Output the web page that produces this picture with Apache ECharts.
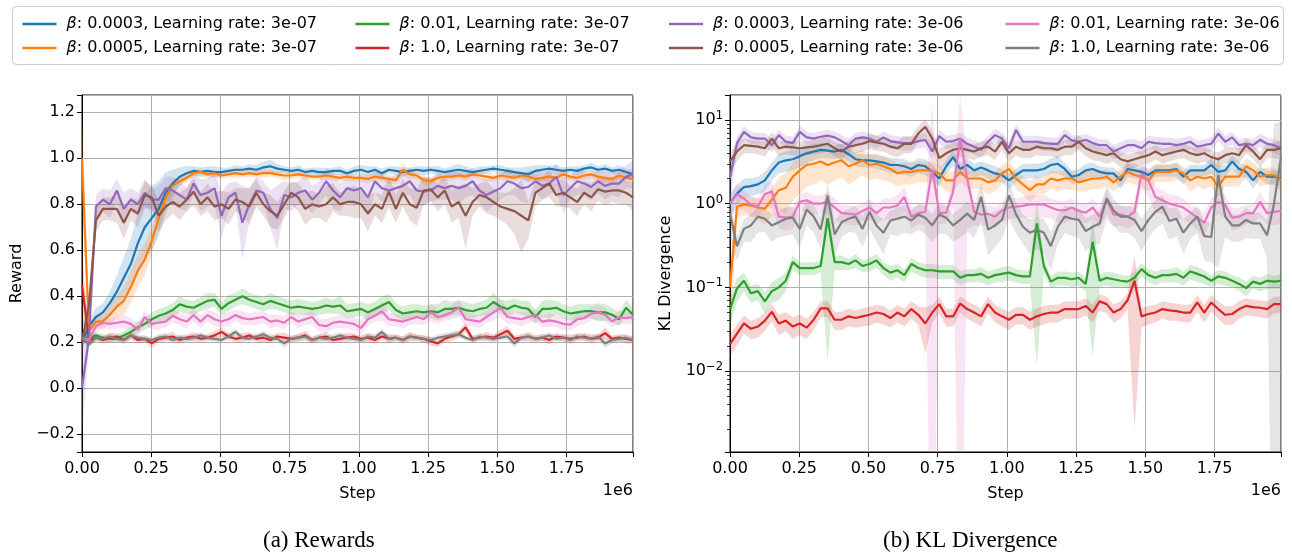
<!DOCTYPE html>
<html><head><meta charset="utf-8">
<script src="https://cdn.jsdelivr.net/npm/echarts@6/dist/echarts.min.js"></script>
<style>html,body{margin:0;padding:0;background:#fff}#c{width:1292px;height:559px}</style>
</head><body><div id="c"></div><script>
// ---------- data ----------
const N = 80, STEP_MAX = 1990000;
const steps = Array.from({length: N}, (_, i) => Math.round(i * STEP_MAX / (N - 1)));

const seriesNames = [
  'β: 0.0003, Learning rate: 3e-07', 'β: 0.0005, Learning rate: 3e-07',
  'β: 0.01, Learning rate: 3e-07', 'β: 1.0, Learning rate: 3e-07',
  'β: 0.0003, Learning rate: 3e-06', 'β: 0.0005, Learning rate: 3e-06',
  'β: 0.01, Learning rate: 3e-06', 'β: 1.0, Learning rate: 3e-06'
];
const seriesColors = ['#1f77b4','#ff7f0e','#2ca02c','#d62728','#9467bd','#8c564b','#e377c2','#7f7f7f'];

const xTickLabels = ['0.00','0.25','0.50','0.75','1.00','1.25','1.50','1.75'];
const rewardTickLabels = ['−0.2','0.0','0.2','0.4','0.6','0.8','1.0','1.2'];
const klTickExponents = [-2, -1, 0, 1];

// Rewards (mean)
const rewardBlue = [0.20,0.27,0.31,0.33,0.37,0.42,0.48,0.54,0.63,0.70,0.74,0.78,0.85,0.89,0.92,0.935,0.945,0.94,0.945,0.94,
0.94,0.945,0.95,0.95,0.955,0.95,0.96,0.965,0.955,0.95,0.945,0.95,0.94,0.945,0.94,0.94,0.945,0.945,0.935,0.945,
0.95,0.94,0.95,0.935,0.95,0.945,0.94,0.945,0.95,0.945,0.95,0.945,0.94,0.945,0.95,0.945,0.94,0.945,0.95,0.955,
0.95,0.945,0.94,0.935,0.93,0.945,0.95,0.955,0.95,0.945,0.95,0.945,0.955,0.96,0.95,0.955,0.945,0.95,0.94,0.93];
const rewardOrange = [1.00,0.25,0.29,0.29,0.32,0.355,0.38,0.44,0.51,0.56,0.64,0.74,0.83,0.88,0.90,0.915,0.935,0.94,0.93,0.935,
0.925,0.93,0.935,0.93,0.935,0.93,0.935,0.935,0.93,0.925,0.925,0.93,0.925,0.92,0.92,0.925,0.92,0.915,0.92,0.915,
0.915,0.91,0.92,0.915,0.91,0.905,0.95,0.93,0.925,0.905,0.90,0.915,0.92,0.92,0.925,0.92,0.93,0.925,0.92,0.915,
0.925,0.92,0.915,0.925,0.92,0.91,0.915,0.92,0.915,0.93,0.92,0.915,0.925,0.93,0.92,0.915,0.91,0.925,0.915,0.91];
const rewardGreen = [0.22,0.22,0.23,0.22,0.215,0.215,0.23,0.245,0.265,0.28,0.30,0.315,0.325,0.34,0.365,0.355,0.35,0.365,0.38,0.385,
0.345,0.37,0.385,0.40,0.385,0.375,0.365,0.38,0.37,0.36,0.35,0.355,0.35,0.345,0.35,0.36,0.355,0.36,0.335,0.34,
0.345,0.33,0.345,0.36,0.375,0.34,0.325,0.33,0.335,0.33,0.335,0.33,0.345,0.345,0.35,0.34,0.335,0.345,0.35,0.375,
0.355,0.345,0.36,0.35,0.345,0.31,0.345,0.345,0.35,0.335,0.325,0.33,0.335,0.335,0.33,0.33,0.32,0.30,0.35,0.32];
const rewardRed = [0.45,0.21,0.22,0.21,0.22,0.225,0.21,0.23,0.21,0.215,0.195,0.215,0.22,0.225,0.21,0.22,0.225,0.215,0.22,0.23,
0.245,0.225,0.215,0.22,0.23,0.215,0.22,0.21,0.225,0.22,0.215,0.22,0.23,0.21,0.22,0.225,0.21,0.215,0.22,0.225,
0.215,0.22,0.21,0.225,0.215,0.22,0.21,0.225,0.22,0.215,0.205,0.195,0.215,0.225,0.235,0.265,0.215,0.22,0.225,0.22,
0.235,0.25,0.215,0.22,0.225,0.215,0.22,0.21,0.225,0.22,0.215,0.22,0.225,0.215,0.22,0.24,0.215,0.22,0.215,0.21];
const rewardPurple = [0.00,0.22,0.79,0.82,0.80,0.86,0.78,0.82,0.80,0.85,0.82,0.82,0.87,0.86,0.84,0.82,0.89,0.84,0.85,0.87,
0.75,0.83,0.85,0.72,0.80,0.86,0.85,0.78,0.74,0.84,0.83,0.85,0.86,0.82,0.85,0.90,0.86,0.83,0.87,0.86,
0.87,0.83,0.90,0.87,0.86,0.87,0.88,0.90,0.86,0.855,0.86,0.88,0.87,0.88,0.87,0.88,0.90,0.86,0.84,0.855,
0.87,0.90,0.89,0.87,0.875,0.90,0.88,0.89,0.92,0.84,0.87,0.90,0.89,0.875,0.90,0.88,0.89,0.89,0.92,0.93];
const rewardBrown = [0.20,0.36,0.73,0.78,0.78,0.78,0.72,0.78,0.76,0.84,0.83,0.75,0.79,0.81,0.79,0.82,0.855,0.80,0.83,0.79,
0.80,0.78,0.82,0.81,0.79,0.85,0.80,0.77,0.75,0.80,0.85,0.83,0.78,0.80,0.79,0.80,0.83,0.80,0.81,0.81,
0.80,0.76,0.80,0.78,0.855,0.78,0.85,0.80,0.785,0.86,0.865,0.83,0.86,0.79,0.81,0.75,0.81,0.84,0.83,0.81,
0.79,0.78,0.77,0.75,0.73,0.85,0.87,0.89,0.84,0.85,0.83,0.81,0.85,0.83,0.865,0.855,0.86,0.86,0.85,0.83];
const rewardPink = [0.22,0.21,0.27,0.285,0.28,0.285,0.29,0.28,0.255,0.31,0.28,0.285,0.29,0.315,0.30,0.29,0.318,0.29,0.318,0.30,
0.29,0.30,0.318,0.305,0.30,0.305,0.31,0.29,0.295,0.285,0.31,0.29,0.30,0.31,0.275,0.27,0.285,0.29,0.285,0.28,
0.262,0.30,0.315,0.335,0.30,0.295,0.29,0.30,0.31,0.30,0.33,0.31,0.318,0.33,0.35,0.30,0.295,0.29,0.31,0.33,
0.35,0.31,0.305,0.30,0.31,0.318,0.29,0.295,0.29,0.28,0.277,0.30,0.305,0.324,0.33,0.32,0.29,0.31,0.305,0.31];
const rewardGray = [0.22,0.19,0.22,0.215,0.225,0.215,0.21,0.23,0.22,0.215,0.21,0.22,0.225,0.21,0.22,0.215,0.22,0.23,0.22,0.215,
0.21,0.225,0.245,0.22,0.215,0.225,0.235,0.22,0.215,0.195,0.215,0.22,0.225,0.21,0.22,0.215,0.22,0.23,0.22,0.215,
0.21,0.225,0.22,0.245,0.215,0.22,0.21,0.225,0.22,0.215,0.21,0.22,0.225,0.23,0.235,0.22,0.21,0.225,0.22,0.215,
0.22,0.225,0.195,0.22,0.225,0.215,0.22,0.23,0.215,0.22,0.21,0.225,0.22,0.215,0.225,0.195,0.21,0.215,0.22,0.21];

// Rewards (spread / std)
const rewardBlueStd = [0.02,0.03,0.04,0.04,0.05,0.07,0.09,0.11,0.13,0.14,0.14,0.12,0.09,0.06,0.04,0.03,0.02,0.02,0.02,0.025,
0.02,0.015,0.02,0.015,0.02,0.02,0.025,0.03,0.02,0.015,0.015,0.02,0.015,0.015,0.02,0.015,0.015,0.02,0.015,0.02,
0.02,0.025,0.015,0.02,0.015,0.02,0.02,0.015,0.015,0.02,0.015,0.02,0.015,0.02,0.025,0.02,0.015,0.02,0.015,0.015,
0.02,0.015,0.02,0.025,0.035,0.025,0.02,0.015,0.02,0.015,0.015,0.02,0.015,0.02,0.015,0.02,0.015,0.02,0.015,0.02];
const rewardOrangeStd = [0.2,0.03,0.03,0.03,0.04,0.05,0.06,0.07,0.07,0.07,0.06,0.05,0.04,0.03,0.02,0.02,0.015,0.015,0.02,0.015,
0.015,0.015,0.02,0.015,0.015,0.015,0.02,0.015,0.015,0.02,0.015,0.015,0.02,0.015,0.015,0.02,0.015,0.015,0.02,0.015,
0.015,0.02,0.015,0.015,0.02,0.015,0.025,0.02,0.015,0.02,0.015,0.015,0.02,0.015,0.015,0.02,0.015,0.015,0.02,0.015,
0.015,0.02,0.015,0.015,0.02,0.015,0.015,0.02,0.015,0.02,0.015,0.015,0.02,0.015,0.015,0.02,0.015,0.015,0.02,0.015];
const rewardGreenStd = [0.02,0.02,0.015,0.015,0.015,0.015,0.02,0.02,0.025,0.025,0.03,0.03,0.03,0.03,0.035,0.03,0.03,0.03,0.035,0.03,
0.03,0.035,0.03,0.035,0.03,0.03,0.03,0.035,0.03,0.03,0.03,0.035,0.03,0.03,0.03,0.035,0.03,0.04,0.03,0.03,
0.03,0.035,0.03,0.04,0.035,0.03,0.03,0.035,0.03,0.03,0.03,0.035,0.04,0.03,0.03,0.035,0.03,0.03,0.035,0.04,
0.03,0.035,0.03,0.03,0.035,0.03,0.035,0.04,0.03,0.03,0.03,0.035,0.03,0.03,0.04,0.035,0.03,0.03,0.035,0.03];
const rewardRedStd = [0.15,0.015,0.015,0.015,0.02,0.015,0.015,0.02,0.015,0.015,0.02,0.015,0.015,0.02,0.015,0.015,0.02,0.015,0.015,0.02,
0.02,0.015,0.015,0.02,0.015,0.015,0.02,0.015,0.015,0.02,0.015,0.015,0.02,0.015,0.015,0.02,0.015,0.015,0.02,0.015,
0.015,0.02,0.015,0.015,0.02,0.015,0.015,0.02,0.015,0.015,0.02,0.015,0.015,0.02,0.015,0.02,0.015,0.015,0.02,0.015,
0.02,0.02,0.015,0.015,0.02,0.015,0.015,0.02,0.015,0.015,0.02,0.015,0.015,0.02,0.015,0.025,0.015,0.015,0.02,0.015];
const rewardPurpleStd = [0.2,0.04,0.05,0.05,0.06,0.05,0.07,0.05,0.05,0.06,0.05,0.06,0.05,0.06,0.06,0.05,0.05,0.07,0.06,0.07,
0.10,0.06,0.05,0.16,0.07,0.06,0.05,0.08,0.14,0.06,0.06,0.05,0.07,0.06,0.05,0.06,0.08,0.06,0.05,0.06,
0.06,0.08,0.05,0.06,0.05,0.06,0.05,0.06,0.07,0.06,0.05,0.06,0.05,0.06,0.07,0.05,0.06,0.05,0.07,0.06,
0.05,0.06,0.05,0.06,0.07,0.05,0.06,0.05,0.06,0.08,0.05,0.06,0.05,0.06,0.05,0.06,0.05,0.06,0.05,0.06];
const rewardBrownStd = [0.05,0.06,0.05,0.05,0.05,0.06,0.07,0.05,0.06,0.06,0.05,0.07,0.06,0.05,0.06,0.05,0.06,0.05,0.06,0.06,
0.06,0.07,0.05,0.06,0.08,0.06,0.05,0.07,0.06,0.06,0.05,0.06,0.07,0.06,0.05,0.08,0.06,0.05,0.06,0.07,
0.06,0.08,0.05,0.06,0.07,0.06,0.06,0.07,0.08,0.06,0.05,0.06,0.06,0.07,0.07,0.14,0.06,0.05,0.07,0.06,
0.06,0.07,0.10,0.16,0.08,0.06,0.05,0.06,0.05,0.06,0.05,0.06,0.05,0.06,0.05,0.06,0.05,0.06,0.05,0.06];
const rewardPinkStd = [0.02,0.02,0.03,0.025,0.025,0.025,0.03,0.025,0.03,0.03,0.025,0.03,0.025,0.03,0.025,0.03,0.025,0.03,0.025,0.03,
0.025,0.03,0.025,0.03,0.025,0.03,0.025,0.03,0.025,0.03,0.025,0.03,0.025,0.03,0.03,0.03,0.025,0.03,0.025,0.03,
0.03,0.03,0.025,0.04,0.03,0.025,0.03,0.025,0.03,0.025,0.04,0.03,0.025,0.03,0.04,0.03,0.025,0.03,0.025,0.035,
0.04,0.03,0.025,0.03,0.025,0.03,0.025,0.03,0.025,0.03,0.025,0.03,0.025,0.03,0.03,0.03,0.025,0.03,0.025,0.03];
const rewardGrayStd = [0.02,0.015,0.015,0.012,0.015,0.012,0.015,0.015,0.012,0.015,0.012,0.015,0.015,0.012,0.015,0.012,0.015,0.015,0.012,0.015,
0.012,0.015,0.015,0.012,0.015,0.012,0.015,0.015,0.012,0.02,0.012,0.015,0.015,0.012,0.015,0.012,0.015,0.015,0.012,0.015,
0.012,0.015,0.015,0.015,0.015,0.012,0.015,0.015,0.012,0.015,0.012,0.015,0.015,0.012,0.015,0.012,0.015,0.015,0.012,0.015,
0.012,0.015,0.02,0.012,0.015,0.012,0.015,0.015,0.012,0.015,0.012,0.015,0.015,0.012,0.015,0.02,0.015,0.015,0.012,0.015];

// KL divergence (mean)
const klBlue = [1.0,1.32,1.58,1.62,1.7,1.9,2.5,3.1,3.3,3.4,3.7,4.0,4.2,4.4,4.3,4.2,4.4,3.9,3.4,3.3,
3.3,3.2,3.1,2.9,2.9,2.8,2.6,2.9,2.8,2.4,2.0,2.8,3.6,2.6,2.9,2.5,2.7,2.5,2.3,2.2,
1.9,2.2,2.5,2.5,2.5,2.6,2.9,3.0,2.6,2.1,2.2,2.5,2.6,2.4,2.3,2.3,1.9,2.6,2.5,2.4,
2.2,2.5,2.5,2.5,2.6,2.1,2.5,2.5,2.5,2.9,2.4,2.5,3.2,2.6,2.4,1.9,2.4,2.1,2.1,2.0];
const klOrange = [0.1,0.92,0.98,0.95,0.9,0.87,1.12,1.45,1.55,2.1,2.5,2.9,3.0,3.2,2.9,3.1,3.3,2.8,3.0,3.3,
2.9,3.0,2.8,2.6,2.3,2.4,2.4,2.5,2.5,2.5,2.3,1.9,1.9,2.4,2.0,2.0,2.0,1.8,1.9,2.3,
2.6,2.0,1.7,1.45,1.7,1.7,2.0,1.9,2.0,2.0,1.8,1.9,2.0,2.0,2.1,1.8,2.1,2.4,2.2,2.1,
1.9,2.4,2.4,2.4,2.5,2.3,1.9,2.1,2.0,2.1,1.6,2.1,2.1,2.1,2.8,2.5,2.1,2.2,2.2,1.9];
const klGreen = [0.054,0.097,0.12,0.085,0.09,0.068,0.09,0.1,0.12,0.2,0.17,0.17,0.17,0.18,0.67,0.2,0.2,0.19,0.21,0.18,
0.19,0.21,0.17,0.15,0.16,0.14,0.19,0.17,0.16,0.16,0.155,0.155,0.155,0.13,0.14,0.14,0.145,0.13,0.14,0.145,
0.15,0.14,0.135,0.135,0.58,0.18,0.117,0.13,0.13,0.125,0.13,0.11,0.35,0.12,0.13,0.125,0.12,0.117,0.13,0.165,
0.14,0.13,0.14,0.14,0.145,0.13,0.155,0.145,0.135,0.12,0.135,0.13,0.12,0.11,0.098,0.117,0.11,0.12,0.117,0.12];
const klRed = [0.021,0.028,0.037,0.032,0.034,0.04,0.051,0.037,0.04,0.034,0.037,0.033,0.041,0.056,0.056,0.041,0.041,0.045,0.043,0.045,
0.047,0.05,0.048,0.043,0.05,0.045,0.055,0.047,0.037,0.05,0.063,0.045,0.045,0.064,0.055,0.05,0.045,0.063,0.05,0.045,
0.041,0.047,0.047,0.041,0.045,0.048,0.05,0.05,0.055,0.055,0.055,0.06,0.05,0.068,0.063,0.05,0.055,0.07,0.12,0.045,
0.048,0.05,0.055,0.053,0.052,0.05,0.05,0.066,0.05,0.066,0.055,0.047,0.048,0.055,0.06,0.058,0.057,0.055,0.063,0.063];
const klPurple = [2.0,5.3,7.2,6.2,6.0,6.0,5.0,6.6,5.5,5.3,7.2,6.2,6.0,6.3,6.5,6.2,5.6,5.0,6.0,6.2,
6.0,5.5,6.2,5.6,5.4,5.3,5.3,5.6,5.8,4.2,6.4,5.5,5.6,6.0,5.2,4.8,4.4,5.5,6.6,6.0,
4.6,7.6,5.5,5.5,5.5,5.3,5.2,5.2,6.6,5.7,5.5,5.8,5.3,5.0,5.0,4.2,4.6,5.0,5.0,4.6,
5.5,5.3,5.2,5.2,5.0,5.2,5.5,4.8,5.0,5.2,6.9,5.5,6.2,5.0,5.2,5.0,5.8,5.2,5.0,4.6];
const klBrown = [3.2,4.2,5.0,4.9,4.8,4.6,6.0,4.6,4.8,4.7,4.6,4.7,4.8,5.0,5.2,4.6,4.2,4.8,5.0,5.2,
5.6,5.4,5.2,4.8,4.6,5.2,5.2,6.9,8.3,6.0,3.5,4.0,4.4,4.6,4.4,4.2,4.6,4.8,4.2,5.5,
4.0,4.8,4.4,4.4,4.8,4.6,4.6,4.4,4.8,4.8,5.5,4.6,4.2,4.0,3.8,4.0,3.4,3.2,3.4,3.6,
3.8,4.2,3.8,4.0,4.2,4.4,4.0,3.8,4.0,3.6,3.4,3.8,4.0,3.8,5.0,4.2,3.4,4.4,4.4,4.6];
const klPink = [1.0,1.3,1.15,0.97,0.93,1.3,1.4,0.7,0.68,0.7,1.05,1.1,1.0,1.0,1.05,0.9,0.77,0.76,0.74,0.82,
0.9,0.77,0.9,0.9,0.95,1.2,0.7,0.77,0.8,2.6,0.77,0.78,1.4,6.0,2.0,0.8,0.74,0.76,0.7,0.83,
0.9,0.92,0.94,0.98,0.98,0.98,0.9,0.84,0.83,0.9,0.82,0.78,0.9,0.7,1.1,0.74,0.74,0.7,0.8,2.3,
1.9,1.2,1.1,1.0,0.95,0.9,0.78,0.68,0.59,0.9,1.05,0.97,0.68,0.7,0.77,0.77,1.05,0.77,0.8,0.82];
const klGray = [0.77,0.31,0.5,0.55,0.7,0.66,0.55,0.6,0.66,0.68,0.5,0.85,0.7,0.49,1.25,0.43,0.6,0.66,0.7,0.5,
0.8,0.55,0.45,0.63,0.66,0.7,0.63,0.74,0.68,0.55,0.74,0.68,0.55,0.64,0.76,0.64,1.21,0.49,0.55,0.64,
1.26,0.75,0.53,0.45,0.49,0.45,0.31,0.53,0.7,0.66,0.64,0.47,0.53,0.58,1.16,0.83,0.7,0.7,0.64,0.47,
0.64,0.8,0.92,0.62,0.66,0.45,0.58,0.7,0.41,0.40,2.2,0.7,0.55,0.55,0.64,0.58,0.58,0.42,1.0,3.6];

// KL divergence (spread / std)
const klBlueStd = [0.3,0.35,0.4,0.4,0.4,0.5,0.6,0.8,0.9,0.9,1.0,1.0,0.9,0.9,0.8,0.8,0.8,0.7,0.6,0.6,
0.6,0.6,0.6,0.6,0.6,0.6,0.5,0.6,0.6,0.5,0.4,0.5,0.8,0.5,0.6,0.5,0.5,0.5,0.5,0.4,
0.4,0.4,0.5,0.5,0.5,0.5,0.6,0.7,0.5,0.4,0.4,0.5,0.5,0.4,0.4,0.4,0.4,0.5,0.5,0.4,
0.4,0.4,0.4,0.4,0.5,0.4,0.4,0.4,0.4,0.6,0.4,0.4,0.6,0.5,0.4,0.4,0.4,0.4,0.4,0.4];
const klOrangeStd = [0.08,0.25,0.25,0.25,0.25,0.3,0.4,0.6,0.8,1.0,1.2,1.3,1.3,1.3,1.2,1.2,1.2,1.1,1.1,1.1,
1.0,1.0,0.9,0.8,0.7,0.7,0.7,0.7,0.7,0.7,0.6,0.5,0.5,0.6,0.5,0.5,0.5,0.5,0.5,0.6,
0.6,0.5,0.4,0.4,0.4,0.4,0.5,0.5,0.5,0.5,0.4,0.5,0.5,0.5,0.5,0.4,0.5,0.6,0.5,0.5,
0.5,0.6,0.6,0.6,0.6,0.5,0.5,0.5,0.5,0.5,0.4,0.5,0.5,0.5,0.7,0.6,0.5,0.5,0.5,0.5];
const klGreenStd = [0.02,0.03,0.03,0.02,0.02,0.02,0.025,0.03,0.03,0.04,0.03,0.03,0.03,0.03,0.657,0.04,0.04,0.03,0.04,0.03,
0.035,0.04,0.03,0.03,0.03,0.025,0.035,0.03,0.03,0.03,0.03,0.03,0.03,0.025,0.025,0.025,0.03,0.025,0.025,0.03,
0.03,0.025,0.025,0.025,0.568,0.035,0.02,0.025,0.025,0.025,0.025,0.02,0.335,0.02,0.025,0.025,0.02,0.02,0.025,0.03,
0.025,0.025,0.025,0.025,0.03,0.025,0.03,0.03,0.025,0.02,0.025,0.025,0.02,0.02,0.02,0.02,0.02,0.025,0.02,0.025];
const klRedStd = [0.006,0.008,0.009,0.008,0.009,0.01,0.012,0.01,0.01,0.01,0.01,0.009,0.01,0.012,0.012,0.01,0.01,0.011,0.01,0.011,
0.012,0.012,0.012,0.01,0.012,0.011,0.013,0.012,0.021,0.012,0.014,0.011,0.011,0.014,0.013,0.012,0.011,0.014,0.012,0.011,
0.01,0.011,0.011,0.01,0.011,0.012,0.012,0.012,0.013,0.013,0.013,0.014,0.012,0.015,0.014,0.012,0.013,0.015,0.118,0.012,
0.012,0.012,0.013,0.013,0.012,0.012,0.012,0.015,0.012,0.015,0.013,0.012,0.012,0.013,0.014,0.013,0.013,0.013,0.014,0.014];
const klPurpleStd = [1.0,1.0,1.3,1.0,1.0,1.0,0.9,1.1,1.0,1.0,1.3,1.1,1.0,1.1,1.1,1.1,1.0,1.0,1.1,1.1,
1.0,1.0,1.1,1.0,1.0,1.0,1.0,1.0,1.1,0.9,1.2,1.0,1.0,1.1,1.0,0.9,0.9,1.0,1.2,1.1,
0.9,1.4,1.0,1.0,1.0,1.0,1.0,1.0,1.2,1.0,1.0,1.0,1.0,0.9,0.9,0.8,0.9,0.9,0.9,0.9,
1.0,1.0,1.0,1.0,0.9,1.0,1.0,0.9,0.9,1.0,1.3,1.0,1.1,0.9,1.0,0.9,1.1,1.0,0.9,0.9];
const klBrownStd = [0.8,1.0,1.0,0.9,0.9,0.9,1.2,0.9,0.9,0.9,0.9,0.9,0.9,1.0,1.0,0.9,0.9,0.9,1.0,1.0,
1.1,1.1,1.0,1.0,1.0,1.2,1.2,1.5,2.0,1.5,1.0,1.0,1.0,1.0,0.9,0.9,0.9,1.0,0.9,1.1,
0.9,1.0,0.9,0.9,1.0,0.9,0.9,0.9,1.0,1.0,1.1,0.9,0.9,0.8,0.8,0.8,0.7,0.7,0.7,0.7,
0.8,0.8,0.8,0.8,0.8,0.9,0.8,0.8,0.8,0.7,0.7,0.8,0.8,0.8,1.0,0.8,0.7,0.9,0.9,1.2];
const klPinkStd = [0.3,0.45,0.3,0.25,0.25,0.4,0.5,0.2,0.2,0.2,0.25,0.3,0.25,0.25,0.3,0.25,0.2,0.2,0.2,0.2,
0.25,0.2,0.25,0.25,0.3,0.4,0.2,0.2,0.25,13,0.2,0.2,0.5,14,1.5,0.25,0.2,0.2,0.2,0.2,
0.25,0.25,0.25,0.3,0.3,0.3,0.25,0.25,0.25,0.25,0.2,0.2,0.25,0.2,0.35,0.2,0.2,0.2,0.25,0.8,
0.7,0.4,0.35,0.3,0.3,0.25,0.2,0.2,0.2,0.25,0.3,0.3,0.2,0.2,0.2,0.2,0.35,0.2,0.25,0.25];
const klGrayStd = [0.4,0.1,0.15,0.2,0.25,0.2,0.2,0.2,0.25,0.25,0.2,0.3,0.25,0.2,0.5,0.2,0.2,0.2,0.25,0.2,
0.3,0.2,0.2,0.2,0.25,0.25,0.2,0.25,0.25,0.2,0.3,0.25,0.2,0.25,0.3,0.25,0.6,0.25,0.25,0.25,
0.6,0.3,0.2,0.2,0.2,0.2,0.15,0.2,0.25,0.25,0.25,0.2,0.2,0.25,0.5,0.3,0.25,0.25,0.25,0.2,
0.25,0.3,0.35,0.25,0.25,0.2,0.2,0.25,0.2,0.2,2.03,0.3,0.2,0.2,0.25,0.2,0.2,0.2,8,6];

// ---------- chart ----------
const FONT = 'DejaVu Sans';
const rewardMeans = [rewardBlue, rewardOrange, rewardGreen, rewardRed, rewardPurple, rewardBrown, rewardPink, rewardGray];
const rewardStds = [rewardBlueStd, rewardOrangeStd, rewardGreenStd, rewardRedStd, rewardPurpleStd, rewardBrownStd, rewardPinkStd, rewardGrayStd];
const klMeans = [klBlue, klOrange, klGreen, klRed, klPurple, klBrown, klPink, klGray];
const klStds = [klBlueStd, klOrangeStd, klGreenStd, klRedStd, klPurpleStd, klBrownStd, klPinkStd, klGrayStd];

const series = [];
function addChart(gi, means, stds, isLog) {
  const tf = v => isLog ? Math.log10(Math.max(v, 1e-6)) : v;
  means.forEach((m, k) => {
    const s = stds[k];
    const lo = m.map((v, i) => tf(v - s[i]));
    const hi = m.map((v, i) => tf(v + s[i]));
    const color = seriesColors[k];
    series.push({
      type: 'custom', coordinateSystem: 'cartesian2d', xAxisIndex: gi, yAxisIndex: gi,
      silent: true, z: 1,
      data: steps.map((x, i) => [x, lo[i], hi[i]]),
      encode: {x: 0, y: [1, 2]},
      renderItem: (params, api) => {
        if (params.dataIndex !== 0) return null;
        const pts = [];
        for (let i = 0; i < steps.length; i++) pts.push(api.coord([steps[i], hi[i]]));
        for (let i = steps.length - 1; i >= 0; i--) pts.push(api.coord([steps[i], lo[i]]));
        const cs = params.coordSys;
        return {type: 'group',
          clipPath: {type: 'rect', shape: {x: cs.x, y: cs.y, width: cs.width, height: cs.height}},
          children: [{type: 'polygon', shape: {points: pts}, style: {fill: color, opacity: 0.2}}]};
      }
    });
  });
  means.forEach((m, k) => {
    series.push({type: 'line', name: seriesNames[k], xAxisIndex: gi, yAxisIndex: gi,
      data: steps.map((x, i) => [x, tf(m[i])]), symbol: 'none', showSymbol: false, z: 2,
      lineStyle: {width: 2.2, color: seriesColors[k]}, itemStyle: {color: seriesColors[k]}});
  });
}
addChart(0, rewardMeans, rewardStds, false);
addChart(1, klMeans, klStds, true);

function xAxis(gi) {
  return {type: 'value', gridIndex: gi, min: 0, max: STEP_MAX, interval: 250000,
    name: 'Step', nameLocation: 'middle', nameGap: 34,
    nameTextStyle: {fontFamily: FONT, fontSize: 16, color: '#000'},
    axisLine: {show: true, onZero: false, lineStyle: {color: '#000', width: 1}},
    axisTick: {show: true, length: 5, lineStyle: {color: '#000', width: 1}},
    axisLabel: {fontFamily: FONT, fontSize: 16, color: '#000', margin: 9,
      formatter: v => { const k = Math.round(v / 250000); return Math.abs(v - k * 250000) < 1 ? (xTickLabels[k] || '') : ''; }},
    splitLine: {show: true, lineStyle: {color: '#b0b0b0', width: 1}}};
}

const minorLog = [];
for (let e = -3; e <= 1; e++) for (let m = 2; m <= 9; m++) {
  const l = e + Math.log10(m);
  if (l > -2.968 && l < 1.299) minorLog.push(l);
}

const legends = [0, 1, 2, 3].map(c => ({
  orient: 'vertical', left: [17.5, 350.5, 664, 1000.5][c], top: 10,
  itemWidth: 34, itemHeight: 2.6, itemGap: 6, icon: 'rect', selectedMode: false,
  data: [seriesNames[c * 2], seriesNames[c * 2 + 1]],
  formatter: n => '{i|β}{t|' + n.slice(1) + '}',
  textStyle: {fontFamily: FONT, fontSize: 16, color: '#000', lineHeight: 18,
    rich: {i: {fontFamily: FONT, fontSize: 16, fontStyle: 'italic', color: '#000', lineHeight: 18, padding: [0, 0, 0, 5]},
           t: {fontFamily: FONT, fontSize: 16, color: '#000', lineHeight: 18}}}
}));

const option = {
  animation: false,
  backgroundColor: '#fff',
  legend: legends,
  grid: [
    {left: 82, top: 95, width: 551, height: 357, show: true, borderColor: '#000', borderWidth: 1, containLabel: false},
    {left: 730, top: 95, width: 551, height: 357, show: true, borderColor: '#000', borderWidth: 1, containLabel: false}
  ],
  xAxis: [xAxis(0), xAxis(1)],
  yAxis: [
    {type: 'value', gridIndex: 0, min: -0.277, max: 1.275, splitNumber: 7, minInterval: 0.2, maxInterval: 0.2,
      name: 'Reward', nameLocation: 'middle', nameGap: 57, nameRotate: 90,
      nameTextStyle: {fontFamily: FONT, fontSize: 16, color: '#000'},
      axisLine: {show: true, onZero: false, lineStyle: {color: '#000', width: 1}},
      axisTick: {show: true, length: 5, lineStyle: {color: '#000', width: 1}},
      axisLabel: {fontFamily: FONT, fontSize: 16, color: '#000', margin: 7,
        formatter: v => { const k = Math.round(v / 0.2); return Math.abs(v - k * 0.2) < 1e-6 ? (rewardTickLabels[k + 1] || '') : ''; }},
      splitLine: {show: true, lineStyle: {color: '#b0b0b0', width: 1}}},
    {type: 'value', gridIndex: 1, min: -2.968, max: 1.299, splitNumber: 4, minInterval: 1, maxInterval: 1,
      name: 'KL Divergence', nameLocation: 'middle', nameGap: 56, nameRotate: 90,
      nameTextStyle: {fontFamily: FONT, fontSize: 16, color: '#000'},
      axisLine: {show: true, onZero: false, lineStyle: {color: '#000', width: 1}},
      axisTick: {show: true, length: 5, lineStyle: {color: '#000', width: 1}},
      axisLabel: {margin: 7,
        formatter: v => { const k = Math.round(v); if (Math.abs(v - k) > 1e-6 || klTickExponents.indexOf(k) < 0) return '';
          return '{b|10}{s|' + (k < 0 ? '\u2212' + (-k) : String(k)) + '}'; },
        rich: {b: {fontFamily: FONT, fontSize: 16, color: '#000', lineHeight: 20},
               s: {fontFamily: FONT, fontSize: 11.5, color: '#000', verticalAlign: 'top', lineHeight: 12}}},
      splitLine: {show: true, lineStyle: {color: '#b0b0b0', width: 1}}},
    {type: 'value', gridIndex: 1, min: -2.968, max: 1.299, position: 'left',
      axisLine: {show: false}, axisLabel: {show: false}, splitLine: {show: false},
      axisTick: {show: true, length: 3, customValues: minorLog, lineStyle: {color: '#000', width: 0.8}}}
  ],
  graphic: [
    {type: 'rect', left: 12, top: 6, z: -1, shape: {width: 1271, height: 58, r: 4},
      style: {fill: '#fff', stroke: '#cccccc', lineWidth: 1}},
    {type: 'text', right: 1292 - 633, top: 483, style: {text: '1e6', font: '16px "DejaVu Sans"', fill: '#000'}},
    {type: 'text', right: 1292 - 1281, top: 483, style: {text: '1e6', font: '16px "DejaVu Sans"', fill: '#000'}},
    {type: 'text', left: 263, top: 529, style: {text: '(a) Rewards', font: '23px "Liberation Serif"', fill: '#000'}},
    {type: 'text', left: 883, top: 529, style: {text: '(b) KL Divergence', font: '23px "Liberation Serif"', fill: '#000'}}
  ],
  series: series
};

const chart = echarts.init(document.getElementById('c'), null, {renderer: 'canvas'});
chart.setOption(option);
</script></body></html>
